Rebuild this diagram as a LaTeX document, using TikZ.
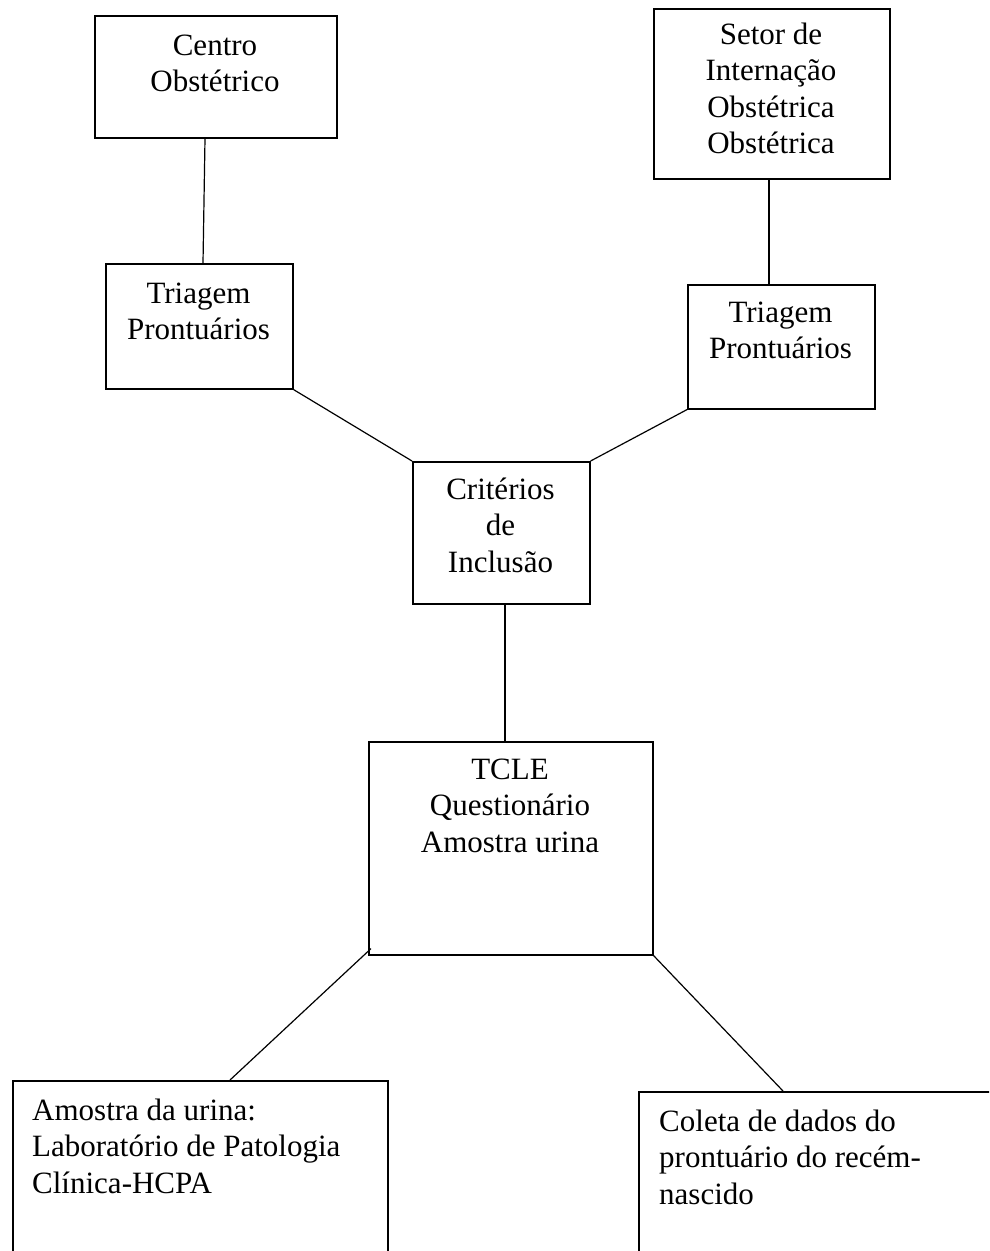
\documentclass[tikz,border=0pt]{standalone}
\usepackage{fontspec}
\setmainfont{Liberation Serif}
\newcommand\boxlines[2]{\begin{tabular}[t]{@{}#1@{}}#2\end{tabular}}
\begin{document}
\begin{tikzpicture}[x=1pt,y=-1pt,
  box/.style={draw=black,line width=1.6pt,rectangle,inner sep=0pt,anchor=north west},
  link/.style={draw=black,line width=1.2pt},
  txt/.style={inner sep=0pt,anchor=base,font=\fontsize{31}{36.5}\selectfont},
  ltxt/.style={txt,anchor=base west}]
\useasboundingbox (0,0) rectangle (989,1251);
\clip (0,0) rectangle (989,1251);
\fill[white] (0,0) rectangle (989,1251);
% boxes
\node[box,minimum width=242pt,minimum height=122pt] (centro) at (94,15) {};
\node[box,minimum width=236pt,minimum height=170pt] (setor) at (653,8) {};
\node[box,minimum width=187pt,minimum height=125pt] (triL) at (105,263) {};
\node[box,minimum width=187pt,minimum height=124pt] (triR) at (687,284) {};
\node[box,minimum width=177pt,minimum height=142pt] (crit) at (412,461) {};
\node[box,minimum width=284pt,minimum height=213pt] (tcle) at (368,741) {};
\node[box,minimum width=375pt,minimum height=200pt] (amostra) at (12,1080) {};
\node[box,minimum width=380pt,minimum height=200pt] (coleta) at (638,1091) {};
% texts
\node[txt] (tcentro) at (215,55) {\boxlines{c}{Centro\\Obstétrico}};
\node[txt] (tsetor) at (771,44) {\boxlines{c}{Setor de\\Internação\\Obstétrica\\Obstétrica}};
\node[txt] (ttriL) at (198.5,303) {\boxlines{c}{Triagem\\Prontuários}};
\node[txt] (ttriR) at (780.5,322) {\boxlines{c}{Triagem\\Prontuários}};
\node[txt] (tcrit) at (500.5,499) {\boxlines{c}{Critérios\\de\\Inclusão}};
\node[txt] (ttcle) at (510,779) {\boxlines{c}{TCLE\\Questionário\\Amostra urina}};
\node[ltxt] (tamostra) at (32,1120) {\boxlines{l}{Amostra da urina:\\Laboratório de Patologia\\Clínica-HCPA}};
\node[ltxt] (tcoleta) at (659,1131) {\boxlines{l}{Coleta de dados do\\prontuário do recém-\\nascido}};
% connectors
\draw[link] ([xshift=111pt]centro.south west) -- ([xshift=98pt]triL.north west);
\draw[link] ([xshift=116pt]setor.south west) -- ([xshift=82pt]triR.north west);
\draw[link] (triL.south east) -- (crit.north west);
\draw[link] (triR.south west) -- (crit.north east);
\draw[link] ([xshift=93pt]crit.south west) -- ([xshift=137pt]tcle.north west);
\draw[link] ([xshift=3pt,yshift=7pt]tcle.south west) -- ([xshift=218pt]amostra.north west);
\draw[link] (tcle.south east) -- ([xshift=145pt]coleta.north west);
\end{tikzpicture}
\end{document}
